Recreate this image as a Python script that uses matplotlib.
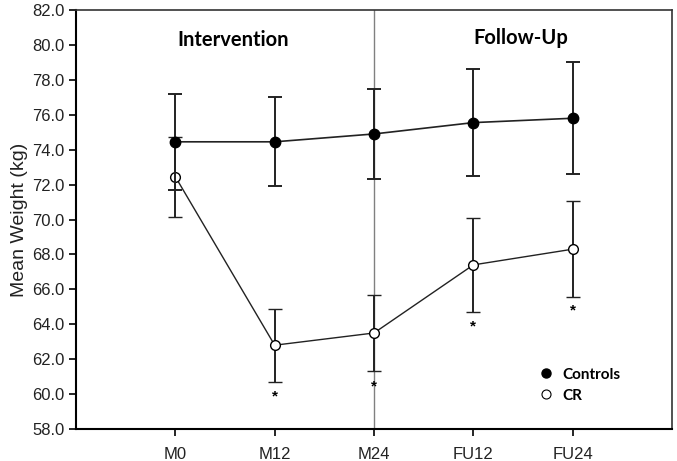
import numpy as np
import matplotlib.pyplot as plt
from matplotlib.lines import Line2D

# data
timepoints = ["M0", "M12", "M24", "FU12", "FU24"]
controls_mean = [74.45, 74.45, 74.9, 75.55, 75.8]
controls_err = [2.75, 2.55, 2.6, 3.05, 3.2]
cr_mean = [72.45, 62.8, 63.5, 67.4, 68.3]
cr_err = [2.3, 2.1, 2.2, 2.7, 2.75]
star_y = [None, 59.85, 60.45, 63.85, 64.8]

plt.rcParams['font.family'] = ['Liberation Sans', 'DejaVu Sans']

fig = plt.figure(figsize=(6.77, 4.61), dpi=100)
ax = fig.add_axes([0.1123, 0.0694, 0.8803, 0.9089])

x = np.arange(1, len(timepoints) + 1)

ax.axvline(3, color='#808080', lw=1, zorder=1)

ax.errorbar(x, cr_mean, yerr=cr_err, color='#222222', lw=1, elinewidth=1.4,
            capsize=5, capthick=1.4, marker='o', ms=7, mfc='white', mec='black',
            mew=1, zorder=2)
ax.errorbar(x, controls_mean, yerr=controls_err, color='#222222', lw=1.2,
            elinewidth=1.4, capsize=5, capthick=1.4, marker='o', ms=7.5,
            mfc='black', mec='black', zorder=3)

for xi, sy in zip(x, star_y):
    if sy is not None:
        ax.text(xi, sy, '*', ha='center', va='center', fontsize=11,
                fontweight='bold')

ax.text(1.58, 80.3, 'Intervention', ha='center', va='center', fontsize=14.5,
        fontweight='bold', family='Lato')
ax.text(4.48, 80.4, 'Follow-Up', ha='center', va='center', fontsize=14.5,
        fontweight='bold', family='Lato')

handles = [Line2D([], [], ls='none', marker='o', ms=6.5, mfc='black', mec='black'),
           Line2D([], [], ls='none', marker='o', ms=6.5, mfc='white', mec='black', mew=0.8)]
ax.legend(handles, ['Controls', 'CR'], frameon=False, loc='lower left',
          bbox_to_anchor=(0.74, 0.03), handletextpad=0.1, labelspacing=0.45,
          prop={'family': 'Lato', 'weight': 'bold', 'size': 11})

ax.set_xlim(0, 6)
ax.set_ylim(58, 82)
ax.set_xticks(x)
ax.set_xticklabels(timepoints)
ax.set_yticks(np.arange(58, 82.1, 2))
ax.set_yticklabels(['%.1f' % v for v in np.arange(58, 82.1, 2)])
ax.tick_params(labelsize=12, length=5, width=1.2, color='black', labelcolor='#222222')
ax.tick_params(axis='x', pad=8)
ax.set_ylabel('Mean Weight (kg)', fontsize=14, labelpad=3, color='#222222')

for s in ['left', 'bottom']:
    ax.spines[s].set_linewidth(1.5)
for s in ['top', 'right']:
    ax.spines[s].set_linewidth(1.2)
    ax.spines[s].set_color('#333333')

fig.savefig('out.png', dpi=100)
